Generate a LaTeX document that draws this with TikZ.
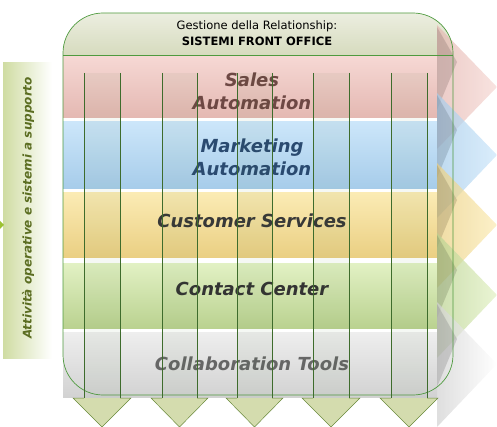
\documentclass[tikz,border=0pt]{standalone}
\usepackage{fontspec}
\setmainfont{DejaVu Sans}
\usepackage{tikz}
\usetikzlibrary{shadings}

\definecolor{frameGreen}{HTML}{4E9A3E}
\definecolor{headTop}{HTML}{ECEEE0}
\definecolor{headBot}{HTML}{D6DBBE}
\definecolor{pinkTop}{HTML}{F6D8D4}
\definecolor{pinkBot}{HTML}{E4B8B2}
\definecolor{blueTop}{HTML}{CCE6FA}
\definecolor{blueBot}{HTML}{A6CCEA}
\definecolor{yellowTop}{HTML}{FBEBB4}
\definecolor{yellowBot}{HTML}{EACF82}
\definecolor{greenTop}{HTML}{E2F1C4}
\definecolor{greenBot}{HTML}{BAD290}
\definecolor{grayTop}{HTML}{EEEEEE}
\definecolor{grayBot}{HTML}{D2D2D2}
\definecolor{salesText}{HTML}{6E4844}
\definecolor{marketText}{HTML}{2A4A70}
\definecolor{shaftGreen}{HTML}{3E6C2C}
\definecolor{tipFill}{HTML}{D4DCAE}
\definecolor{tipDraw}{HTML}{6A8A3C}
\definecolor{sideGreen}{HTML}{CFDCA2}
\definecolor{sideText}{HTML}{5C6E22}
\definecolor{sideArrow}{HTML}{9CC232}

\tikzset{
   bandlabel/.style={font=\fontsize{18}{23}\selectfont\bfseries\itshape, align=center},
   headlabel/.style={font=\fontsize{11.5}{16}\selectfont, align=center},
   bandhead/.style={fill opacity=0.72, draw=none},
   bevel/.style={fill opacity=0.25, draw=none},
   shaft/.style={draw=shaftGreen, line width=0.6pt},
   tip/.style={fill=tipFill, draw=tipDraw, line width=0.5pt}
}

\begin{document}
\begin{tikzpicture}[x=1pt,y=-1pt]
\useasboundingbox (0,0) rectangle (497,427);

%% Side box
\shade[left color=sideGreen, right color=white] (3,63) rectangle (52,358);
\node[rotate=90, font=\fontsize{12}{14}\selectfont\bfseries\itshape, text=sideText] (side) at (28,208) {Attività operative e sistemi a supporto};
\fill[sideArrow] (-3,218) -- (4,225) -- (-3,232) -- cycle;

%% Header band
\begin{scope}
\clip[rounded corners=40pt] (63,13) rectangle (453,395);
\shade[top color=headTop, bottom color=headBot] (63,13) rectangle (453,55);
\end{scope}
\node[headlabel] (title) at (257,33) {Gestione della Relationship:\\\textbf{SISTEMI FRONT OFFICE}};

% SALES AUTOMATION
\shade[top color=pinkTop, bottom color=pinkBot] (63,56) rectangle (437,118);
\shade[bandhead, left color=pinkBot, right color=pinkTop] (437,25) -- (497,87) -- (437,149) -- cycle;
\fill[bevel, pinkBot!50!black] (437,27) -- (457,62) -- (437,110) -- cycle;
\node[bandlabel, text=salesText] (sales) at (252,91) {Sales\\Automation};

% MARKETING AUTOMATION
\shade[top color=blueTop, bottom color=blueBot] (63,122) rectangle (437,189);
\shade[bandhead, left color=blueBot, right color=blueTop] (437,93) -- (497,155) -- (437,218) -- cycle;
\fill[bevel, blueBot!50!black] (437,95) -- (457,130) -- (437,178) -- cycle;
\node[bandlabel, text=marketText] (marketing) at (252,157) {Marketing\\Automation};

% CUSTOMER SERVICES
\shade[top color=yellowTop, bottom color=yellowBot] (63,193) rectangle (437,258);
\shade[bandhead, left color=yellowBot, right color=yellowTop] (437,163) -- (497,225) -- (437,288) -- cycle;
\fill[bevel, yellowBot!50!black] (437,165) -- (457,200) -- (437,248) -- cycle;
\node[bandlabel, text=black!78] (customer) at (252,221) {Customer Services};

% CONTACT CENTER
\shade[top color=greenTop, bottom color=greenBot] (63,263) rectangle (437,328);
\shade[bandhead, left color=greenBot, right color=greenTop] (437,233) -- (497,295) -- (437,358) -- cycle;
\fill[bevel, greenBot!50!black] (437,235) -- (457,270) -- (437,318) -- cycle;
\node[bandlabel, text=black!80] (contact) at (252,289) {Contact Center};

% COLLABORATION TOOLS
\shade[top color=grayTop, bottom color=grayBot] (63,332) rectangle (437,397);
\shade[bandhead, left color=grayBot, right color=white] (437,302) -- (497,364) -- (437,427) -- cycle;
\fill[bevel, grayBot!50!black] (437,304) -- (457,339) -- (437,387) -- cycle;
\node[bandlabel, text=black!60] (collab) at (252,364) {Collaboration Tools};

%% Frame
\draw[frameGreen, line width=0.7pt, rounded corners=40pt] (63,13) rectangle (453,395);
\draw[frameGreen, line width=0.7pt] (63,55) -- (453,55);

%% Down arrows
\foreach \xa/\xb in {84/120,162/197,237/272,313/349,391/427}{
   \fill[shaftGreen, fill opacity=0.05] (\xa,73) rectangle (\xb,398);
   \draw[tip] (\xa,398) -- (\xa-11,398) -- ({(\xa+\xb)/2},427) -- (\xb+11,398) -- (\xb,398);
   \draw[shaft] (\xa,73) -- (\xa,398);
   \draw[shaft] (\xb,73) -- (\xb,398);
}
\end{tikzpicture}
\end{document}
